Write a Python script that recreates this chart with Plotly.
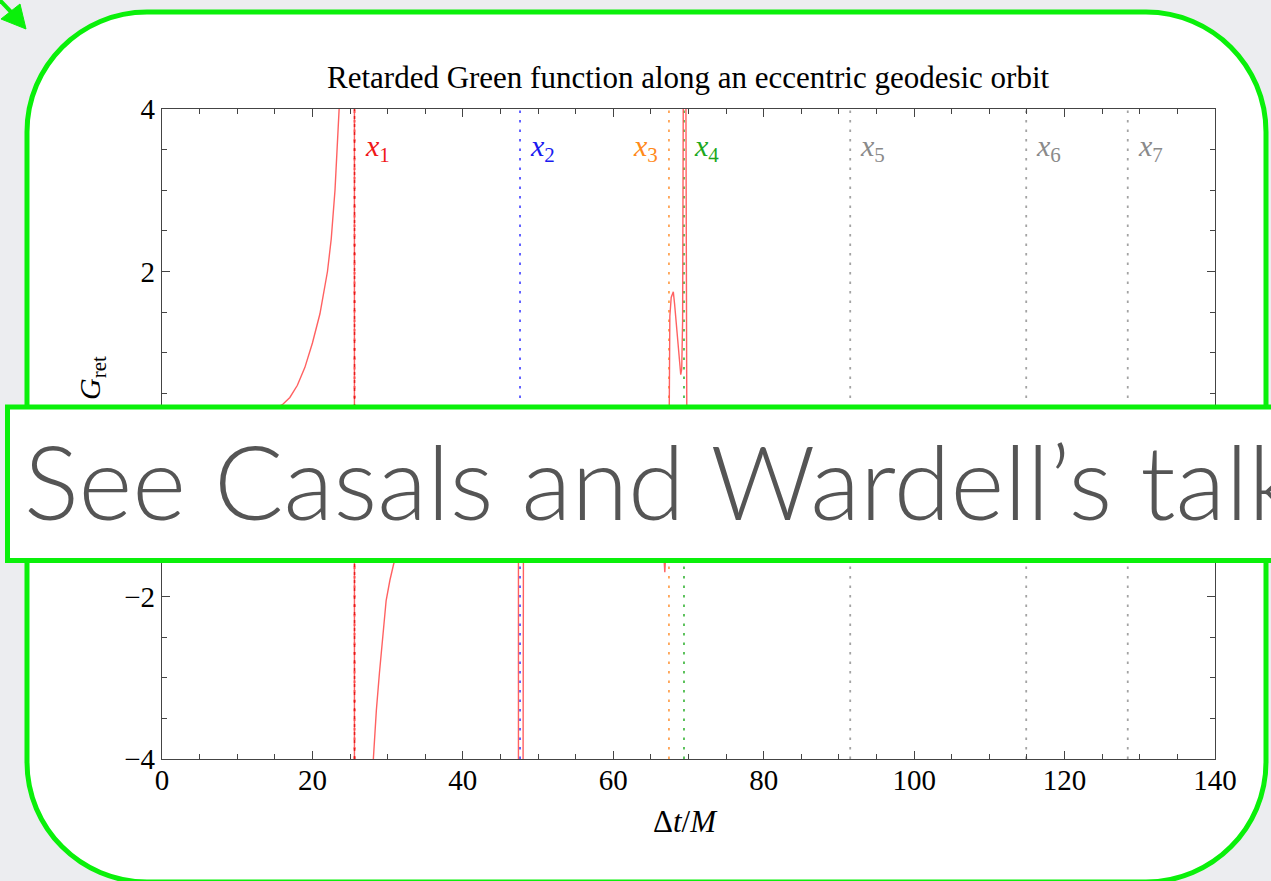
import plotly.graph_objects as go

# ---------------- data ----------------
G_T = [0, 3, 6, 9, 12, 14, 16, 17, 18, 19, 20, 21, 22, 22.5, 23.0, 23.3, 23.55, 23.8, 24.5,
       25.55, 25.62, 26.5, 27.5, 28.1, 28.5, 28.9, 29.3, 29.8, 30.3, 30.8, 32, 35, 40, 45,
       47.3, 47.39, 47.40, 48.04, 48.06, 48.2, 52, 58, 63, 66.0, 66.6, 66.85, 67.05, 67.42,
       67.47, 67.52, 67.7, 67.98, 68.15, 68.4, 68.7, 68.97, 69.1, 69.22, 69.3, 69.35, 69.6,
       69.66, 69.72, 69.8, 70.5, 75, 85, 100, 120, 140]
G_VAL = [0.05, 0.07, 0.1, 0.14, 0.2, 0.27, 0.36, 0.45, 0.6, 0.82, 1.12, 1.48, 2.0, 2.4, 3.0, 3.5,
         4.0, 4.8, 9, 80, -80, -12, -5.2, -4.0, -3.4, -2.95, -2.5, -2.05, -1.8, -1.6, -1.3, -0.9,
         -0.6, -0.5, -0.6, -1.0, -40, -40, -1.0, -0.5, -0.3, -0.25, -0.35, -0.8, -1.3, -1.7,
         -1.3, 0.0, 0.8, 1.45, 1.68, 1.75, 1.6, 1.3, 0.98, 0.73, 0.8, 1.4, 4.0, 30, 30, 4.0,
         0.0, -0.6, -0.4, -0.2, -0.12, -0.08, -0.05, -0.03]

MARK_T = [25.6, 47.6, 67.4, 69.4, 91.5, 114.9, 128.4]
MARK_LABELS = ["1", "2", "3", "4", "5", "6", "7"]
MARK_LINE_COLORS = ["rgba(255,0,0,0.75)", "rgba(40,40,255,0.8)", "rgba(255,140,40,0.8)",
                    "rgba(30,170,30,0.8)", "rgba(140,140,140,0.8)", "rgba(140,140,140,0.8)",
                    "rgba(140,140,140,0.8)"]
MARK_TEXT_COLORS = ["#F01818", "#1A1AF0", "#FF8A1A", "#1DA81D", "#8A8A8A", "#8A8A8A", "#8A8A8A"]
MARK_SIDE = ["right", "right", "left", "right", "right", "right", "right"]

X_RANGE = [0, 140]
Y_RANGE = [-4, 4]
X_TICKS = [0, 20, 40, 60, 80, 100, 120, 140]
Y_TICKS = [-4, -2, 0, 2, 4]

TITLE = "Retarded Green function along an eccentric geodesic orbit"
OVERLAY_TEXT = "See Casals and Wardell\u2019s talk"

# ---------------- layout geometry ----------------
FIG_W, FIG_H = 1271, 881
L, T, W, H = 162, 109, 1053, 650
GREEN = "#0AF00A"
SERIF = "Liberation Serif"


def px(x):
    return (x - L) / W


def py(y):
    return (T + H - y) / H


def path_from(points_cmds):
    out = []
    for cmd, pts in points_cmds:
        coords = [f"{px(x):.5f},{py(y):.5f}" for (x, y) in pts]
        out.append(cmd + " " + " ".join(coords))
    return " ".join(out) + " Z"


def rounded_rect(x0, y0, x1, y1, r):
    k = 0.5523 * r
    cmds = [
        ("M", [(x0 + r, y0)]),
        ("L", [(x1 - r, y0)]),
        ("C", [(x1 - r + k, y0), (x1, y0 + r - k), (x1, y0 + r)]),
        ("L", [(x1, y1 - r)]),
        ("C", [(x1, y1 - r + k), (x1 - r + k, y1), (x1 - r, y1)]),
        ("L", [(x0 + r, y1)]),
        ("C", [(x0 + r - k, y1), (x0, y1 - r + k), (x0, y1 - r)]),
        ("L", [(x0, y0 + r)]),
        ("C", [(x0, y0 + r - k), (x0 + r - k, y0), (x0 + r, y0)]),
    ]
    return path_from(cmds)


fig = go.Figure()

# vertical marker lines
for t, c in zip(MARK_T, MARK_LINE_COLORS):
    fig.add_trace(go.Scatter(x=[t, t], y=Y_RANGE, mode="lines",
                             line=dict(color=c, width=1.8, dash="2.5px,7px"),
                             hoverinfo="skip", showlegend=False))

# Green function curve
fig.add_trace(go.Scatter(x=G_T, y=G_VAL, mode="lines",
                         line=dict(color="rgba(255,80,80,0.9)", width=1.4),
                         showlegend=False))

# x1 marker on top of the curve
fig.add_trace(go.Scatter(x=[MARK_T[0], MARK_T[0]], y=Y_RANGE, mode="lines",
                         line=dict(color="rgba(220,0,0,0.7)", width=1.6, dash="3px,5px"),
                         hoverinfo="skip", showlegend=False))

shapes = []
# slide rounded panel
shapes.append(dict(type="path", xref="paper", yref="paper", layer="below",
                   path=rounded_rect(27, 12, 1266, 882, 120),
                   fillcolor="white", line=dict(color=GREEN, width=5)))
# arrow in top-left corner
shapes.append(dict(type="line", xref="paper", yref="paper", layer="below",
                   x0=px(-6), y0=py(-6), x1=px(13), y1=py(14),
                   line=dict(color=GREEN, width=4)))
shapes.append(dict(type="path", xref="paper", yref="paper", layer="below",
                   path=path_from([("M", [(20, 4)]), ("L", [(26, 29)]), ("L", [(1, 19)])]),
                   fillcolor=GREEN, line=dict(color=GREEN, width=1)))
# overlay box
shapes.append(dict(type="rect", xref="paper", yref="paper", layer="above",
                   x0=px(7.5), y0=py(407), x1=px(1300), y1=py(560.5),
                   fillcolor="white", line=dict(color=GREEN, width=5)))

annotations = []
annotations.append(dict(xref="paper", yref="paper", x=0.5, y=py(77), xanchor="center",
                        yanchor="middle", showarrow=False, text=TITLE,
                        font=dict(family=SERIF, size=31, color="black")))
annotations.append(dict(xref="paper", yref="paper", x=px(92), y=py(378), xanchor="center",
                        yanchor="middle", showarrow=False, textangle=-90,
                        text="<i>G</i><sub>ret</sub>",
                        font=dict(family=SERIF, size=30, color="black")))
annotations.append(dict(xref="paper", yref="paper", x=px(685), y=py(821), xanchor="center",
                        yanchor="middle", showarrow=False,
                        text="\u0394<i>t</i>/<i>M</i>",
                        font=dict(family=SERIF, size=31, color="black")))
for t, lab, c, side in zip(MARK_T, MARK_LABELS, MARK_TEXT_COLORS, MARK_SIDE):
    annotations.append(dict(x=t, y=3.52, xref="x", yref="y",
                            xanchor="left" if side == "right" else "right",
                            xshift=8 if side == "right" else -9,
                            yanchor="middle", showarrow=False,
                            text=f"<i>x</i><sub>{lab}</sub>",
                            font=dict(family=SERIF, size=30, color=c)))
annotations.append(dict(xref="paper", yref="paper", x=px(22), y=py(480), xanchor="left",
                        yanchor="middle", showarrow=False, text=OVERLAY_TEXT,
                        font=dict(family="Lato", size=103, color="#555555", weight=300)))

axis_common = dict(showline=True, linecolor="#444444", linewidth=1.3, mirror="ticks",
                   ticks="inside", ticklen=8, tickwidth=1.2, tickcolor="#444444",
                   showgrid=False, zeroline=False,
                   tickfont=dict(family=SERIF, size=29, color="black"))

fig.update_layout(
    width=FIG_W, height=FIG_H, autosize=False,
    font=dict(family=SERIF, color="black"),
    margin=dict(l=L, r=FIG_W - L - W, t=T, b=FIG_H - T - H, pad=0),
    paper_bgcolor="#ECEDF0", plot_bgcolor="white",
    xaxis=dict(range=X_RANGE, tickvals=X_TICKS, ticktext=[str(v) for v in X_TICKS],
               ticklabelstandoff=-5,
               minor=dict(dtick=5, tick0=0, ticks="inside", ticklen=5, tickcolor="#444444",
                          showgrid=False),
               **axis_common),
    yaxis=dict(range=Y_RANGE, tickvals=Y_TICKS,
               ticktext=["\u22124", "\u22122", "0", "2", "4"],
               minor=dict(dtick=0.5, tick0=0, ticks="inside", ticklen=5, tickcolor="#444444",
                          showgrid=False),
               **axis_common),
    shapes=shapes, annotations=annotations, showlegend=False,
)

fig.write_html("out.html", config={"displayModeBar": False})
